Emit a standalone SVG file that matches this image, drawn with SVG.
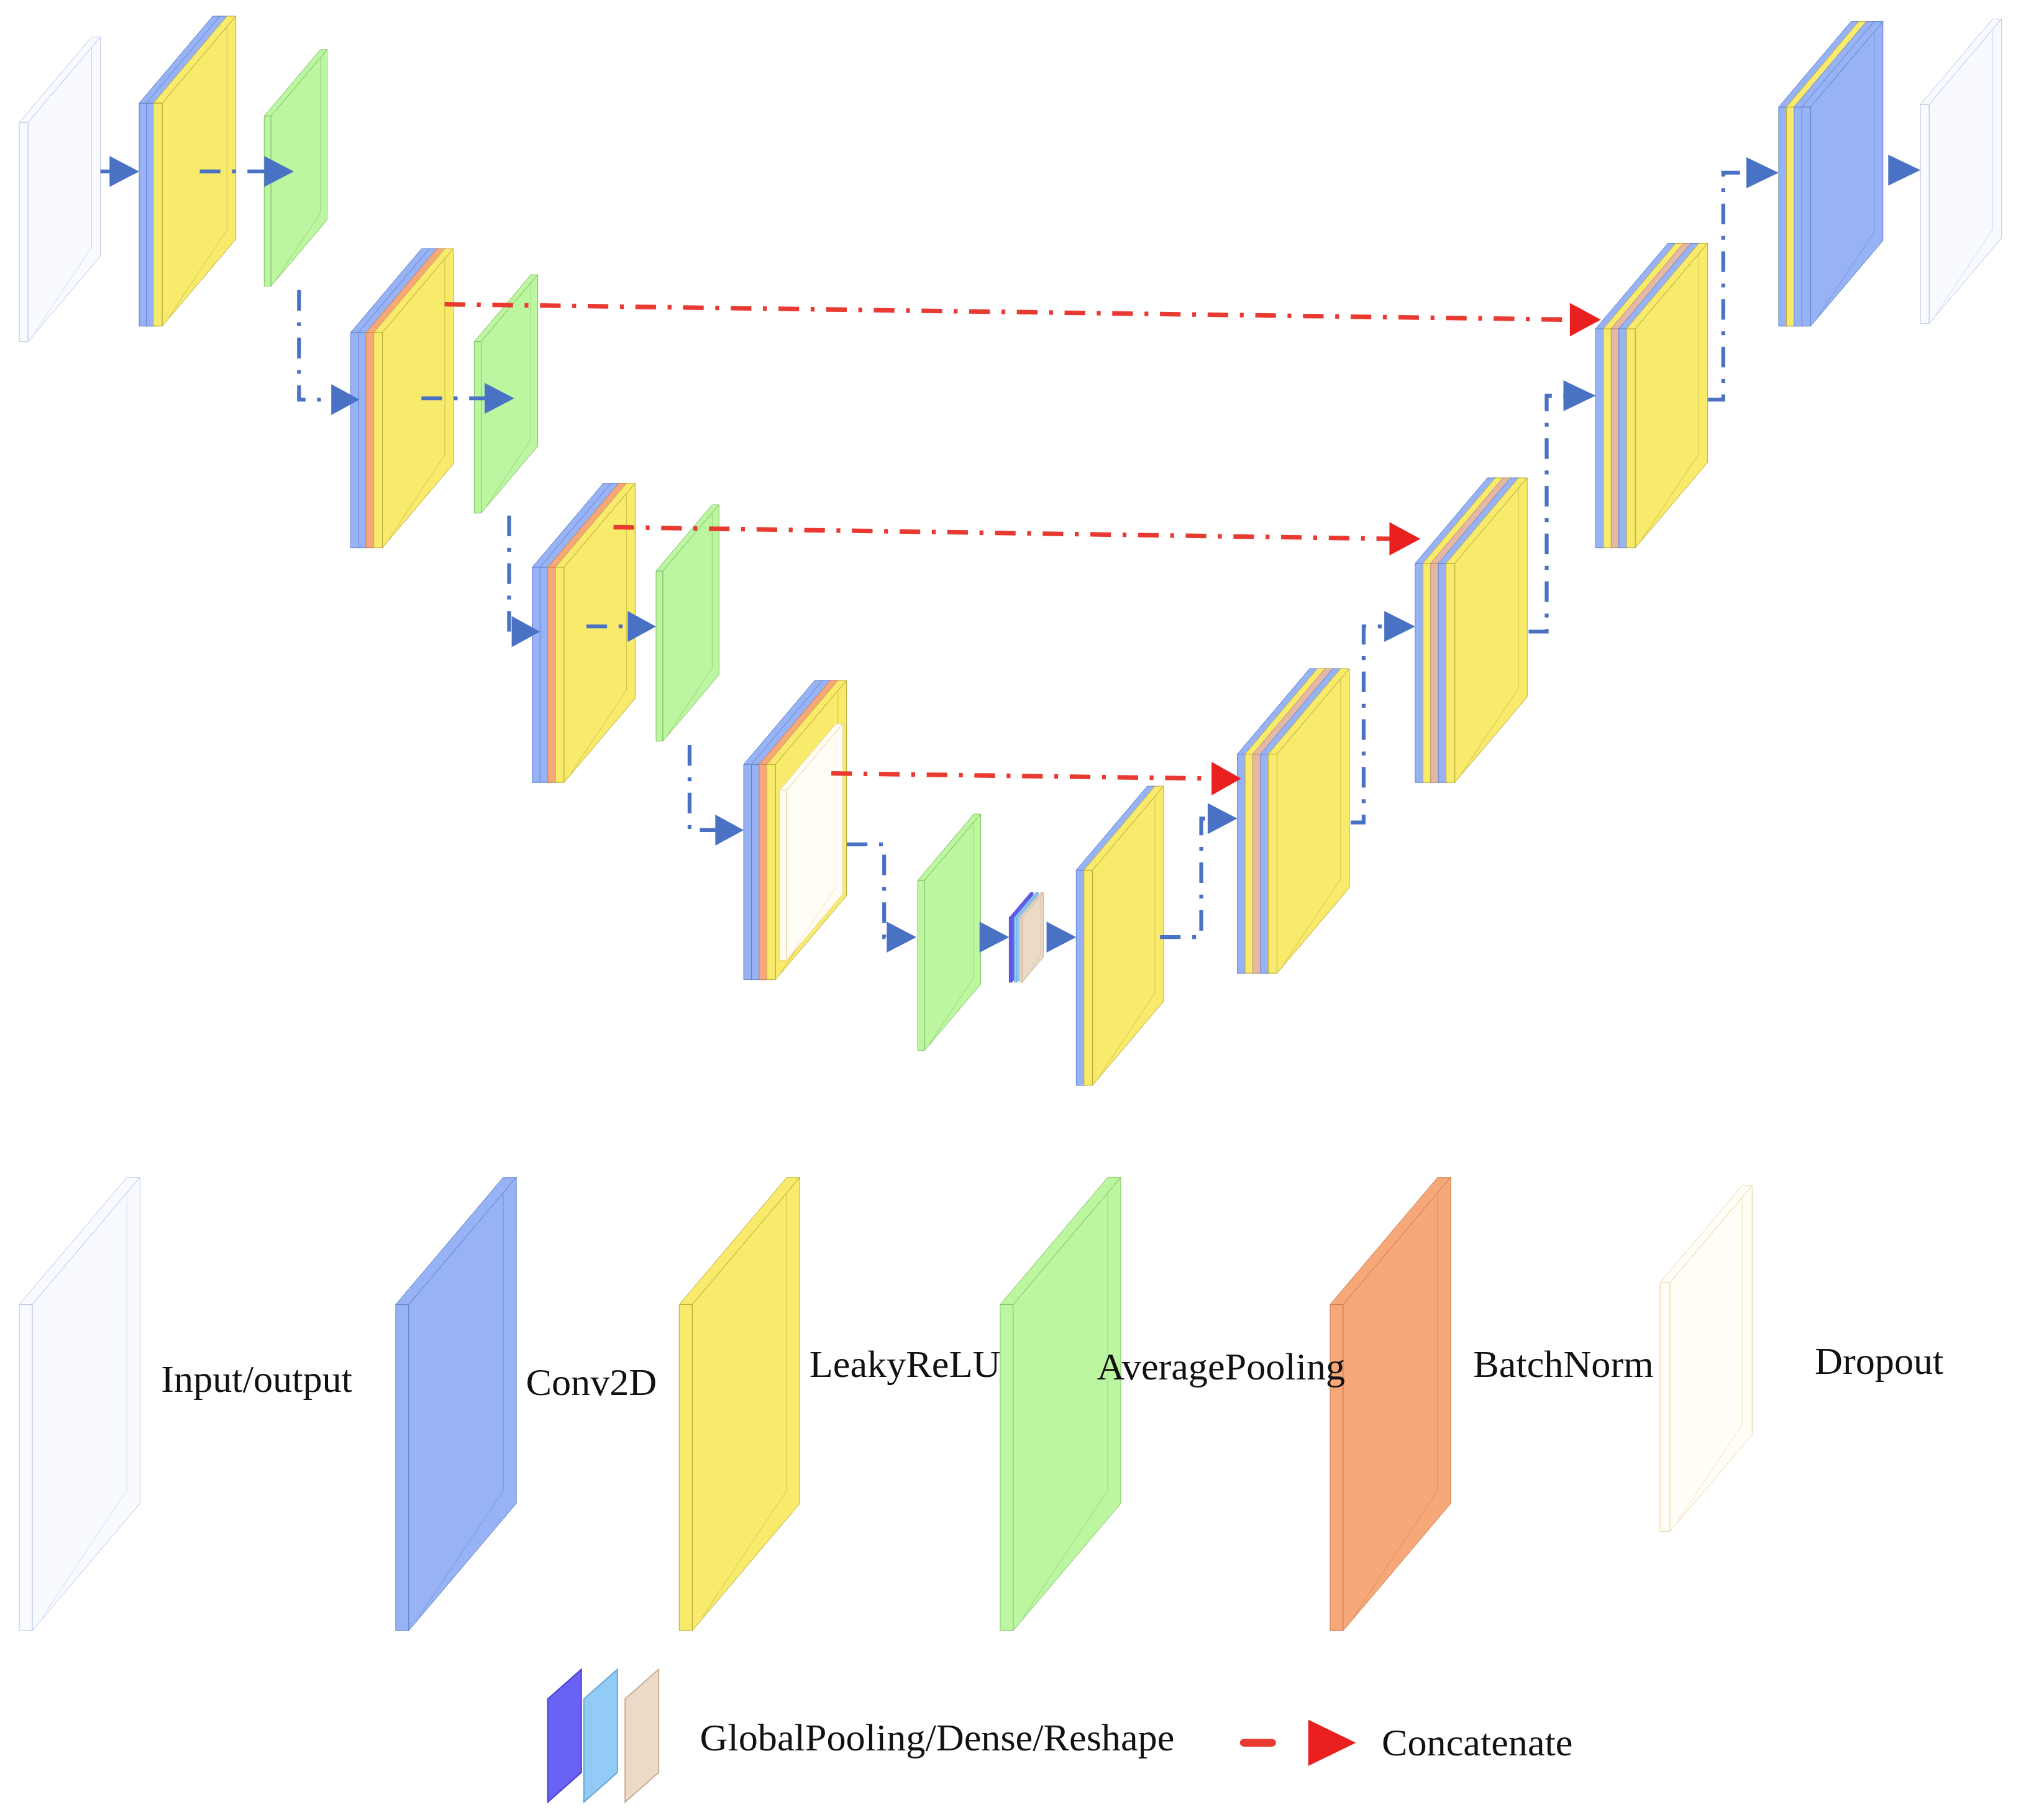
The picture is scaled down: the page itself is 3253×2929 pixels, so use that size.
<svg xmlns="http://www.w3.org/2000/svg" xmlns:xlink="http://www.w3.org/1999/xlink" width="3253" height="2929" viewBox="0 0 3253 2929">
<style>
.b{fill:#97b3f5;stroke:#5e7fc8}.y{fill:#f8ea6a;stroke:#b8a838}.g{fill:#bdf6a0;stroke:#7cbf62}.o{fill:#f7a878;stroke:#c8784a}
.w{fill:#f8faff;stroke:#b8c4e4}.d{fill:#fffdf6;stroke:#e8d2a0}.t{fill:#e4b8a4;stroke:#b88870}
.v{fill:#6a62f5;stroke:#4a42d0}.lb{fill:#92ccf6;stroke:#6aa8d8}.be{fill:#ecdac6;stroke:#c8b096}
.bl{fill:none;stroke:#4a72c4;stroke-width:3;stroke-dasharray:16 9 3 9}
.rd{fill:none;stroke:#e83a30;stroke-width:3.5;stroke-dasharray:16 9 3 9}
.ba{fill:#4a72c4}.ra{fill:#ea2020}
text{font-family:"Liberation Serif",serif;font-size:30px;fill:#111}
</style>
<defs>
<g id="plate">
<polygon points="0,0 0,-100 4,-100 4,0" vector-effect="non-scaling-stroke" stroke-width="1"/>
<polygon points="0,-100 33,-139 37,-139 4,-100" vector-effect="non-scaling-stroke" stroke-width="1"/>
<polygon points="4,-100 37,-139 37,-39 4,0" vector-effect="non-scaling-stroke" stroke-width="1"/>
<polyline points="33,-134 33,-43 7,-4" fill="none" vector-effect="non-scaling-stroke" stroke-width="1" opacity="0.6"/>
</g>
</defs>
<rect width="3253" height="2929" fill="#fff"/>
<g transform="scale(2.0746,2.0745)">
<g id="input"><use href="#plate" class="w" transform="translate(15,265) scale(1.7)"/></g>
<g id="enc1">
<use href="#plate" class="b" transform="translate(108,253) scale(1.73)"/>
<use href="#plate" class="b" transform="translate(113.5,253) scale(1.73)"/>
<use href="#plate" class="y" transform="translate(119,253) scale(1.73)"/>
</g>
<g id="pool1"><use href="#plate" class="g" transform="translate(205,222) scale(1.32)"/></g>
<g id="enc2">
<use href="#plate" class="b" transform="translate(272,425) scale(1.67)"/>
<use href="#plate" class="b" transform="translate(278,425) scale(1.67)"/>
<use href="#plate" class="o" transform="translate(284,425) scale(1.67)"/>
<use href="#plate" class="y" transform="translate(290,425) scale(1.67)"/>
</g>
<g id="pool2"><use href="#plate" class="g" transform="translate(368,398) scale(1.33)"/></g>
<g id="enc3">
<use href="#plate" class="b" transform="translate(413,607) scale(1.67)"/>
<use href="#plate" class="b" transform="translate(419,607) scale(1.67)"/>
<use href="#plate" class="o" transform="translate(425,607) scale(1.67)"/>
<use href="#plate" class="y" transform="translate(431,607) scale(1.67)"/>
</g>
<g id="pool3"><use href="#plate" class="g" transform="translate(509,575) scale(1.32)"/></g>
<g id="enc4">
<use href="#plate" class="b" transform="translate(577,760) scale(1.67)"/>
<use href="#plate" class="b" transform="translate(583,760) scale(1.67)"/>
<use href="#plate" class="o" transform="translate(589,760) scale(1.67)"/>
<use href="#plate" class="y" transform="translate(595,760) scale(1.67)"/>
<use href="#plate" class="d" transform="translate(605,745) scale(1.32)"/>
</g>
<g id="pool4"><use href="#plate" class="g" transform="translate(712,815) scale(1.32)"/></g>
<g id="gdr">
<use href="#plate" class="v" transform="translate(783,762) scale(0.5)"/>
<use href="#plate" class="lb" transform="translate(787,762) scale(0.5)"/>
<use href="#plate" class="be" transform="translate(791,762) scale(0.5)"/>
</g>
<g id="dec1">
<use href="#plate" class="b" transform="translate(835,842) scale(1.67)"/>
<use href="#plate" class="y" transform="translate(841,842) scale(1.67)"/>
</g>
<g id="dec2">
<use href="#plate" class="b" transform="translate(960,755) scale(1.7)"/>
<use href="#plate" class="y" transform="translate(966,755) scale(1.7)"/>
<use href="#plate" class="t" transform="translate(972,755) scale(1.7)"/>
<use href="#plate" class="b" transform="translate(978,755) scale(1.7)"/>
<use href="#plate" class="y" transform="translate(984,755) scale(1.7)"/>
</g>
<g id="dec3">
<use href="#plate" class="b" transform="translate(1098,607) scale(1.7)"/>
<use href="#plate" class="y" transform="translate(1104,607) scale(1.7)"/>
<use href="#plate" class="t" transform="translate(1110,607) scale(1.7)"/>
<use href="#plate" class="b" transform="translate(1116,607) scale(1.7)"/>
<use href="#plate" class="y" transform="translate(1122,607) scale(1.7)"/>
</g>
<g id="dec4">
<use href="#plate" class="b" transform="translate(1238,425) scale(1.7)"/>
<use href="#plate" class="y" transform="translate(1244,425) scale(1.7)"/>
<use href="#plate" class="t" transform="translate(1250,425) scale(1.7)"/>
<use href="#plate" class="b" transform="translate(1256,425) scale(1.7)"/>
<use href="#plate" class="y" transform="translate(1262,425) scale(1.7)"/>
</g>
<g id="final">
<use href="#plate" class="b" transform="translate(1380,253) scale(1.7)"/>
<use href="#plate" class="y" transform="translate(1386,253) scale(1.7)"/>
<use href="#plate" class="b" transform="translate(1392,253) scale(1.7)"/>
<use href="#plate" class="b" transform="translate(1398,253) scale(1.7)"/>
</g>
<g id="output"><use href="#plate" class="w" transform="translate(1490,251) scale(1.7)"/></g>
<g id="connectors">
<polyline class="bl" points="78,133 90,133"/>
<polyline class="bl" points="155,133 207,133"/>
<polyline class="bl" points="232,225 232,310 258,310"/>
<polyline class="bl" points="327,309 378,309"/>
<polyline class="bl" points="395,400 395,490 398,490"/>
<polyline class="bl" points="455,486 488,486"/>
<polyline class="bl" points="535,578 535,644 556,644"/>
<polyline class="bl" points="657,655 686,655 686,727 690,727"/>
<polyline class="bl" points="900,727 932,727 932,635 938,635"/>
<polyline class="bl" points="1048,638 1058,638 1058,486 1075,486"/>
<polyline class="bl" points="1186,490 1200,490 1200,307 1214,307"/>
<polyline class="bl" points="1325,310 1337,310 1337,134 1356,134"/>
<polyline class="rd" points="345,236 1220,248"/>
<polyline class="rd" points="476,409 1080,418"/>
<polyline class="rd" points="645,600 942,604"/>
<polygon class="ba" points="85,121 108,133 85,145"/>
<polygon class="ba" points="205,121 228,133 205,145"/>
<polygon class="ba" points="257,298 279,310 257,322"/>
<polygon class="ba" points="376,297 399,309 376,321"/>
<polygon class="ba" points="397,478 419,490 397,502"/>
<polygon class="ba" points="487,474 509,486 487,498"/>
<polygon class="ba" points="555,632 577,644 555,656"/>
<polygon class="ba" points="688,715 711,727 688,739"/>
<polygon class="ba" points="760,715 783,727 760,739"/>
<polygon class="ba" points="812,715 835,727 812,739"/>
<polygon class="ba" points="937,623 960,635 937,647"/>
<polygon class="ba" points="1074,474 1098,486 1074,498"/>
<polygon class="ba" points="1213,295 1238,307 1213,319"/>
<polygon class="ba" points="1355,122 1380,134 1355,146"/>
<polygon class="ba" points="1465,120 1490,132 1465,144"/>
<polygon class="ra" points="1218,235 1242,248 1218,261"/>
<polygon class="ra" points="1078,405 1102,418 1078,431"/>
<polygon class="ra" points="940,591 963,604 940,617"/>
</g>
<g id="legend">
<use href="#plate" class="w" transform="translate(15,1265) scale(2.53)"/>
<use href="#plate" class="b" transform="translate(307,1265) scale(2.53)"/>
<use href="#plate" class="y" transform="translate(527,1265) scale(2.53)"/>
<use href="#plate" class="g" transform="translate(776,1265) scale(2.53)"/>
<use href="#plate" class="o" transform="translate(1032,1265) scale(2.53)"/>
<use href="#plate" class="d" transform="translate(1288,1188) scale(1.93)"/>
<polygon class="v" points="425,1318 451,1295 451,1375 425,1398"/>
<polygon class="lb" points="453,1318 479,1295 479,1375 453,1398"/>
<polygon class="be" points="485,1318 511,1295 511,1375 485,1398"/>
<rect x="962" y="1349" width="28" height="6" rx="3" fill="#e83a30"/>
<polygon class="ra" points="1015,1334 1052,1352 1015,1370"/>
<text x="125" y="1080">Input/output</text>
<text x="408" y="1082">Conv2D</text>
<text x="628" y="1068">LeakyReLU</text>
<text x="851" y="1070">AveragePooling</text>
<text x="1143" y="1068">BatchNorm</text>
<text x="1408" y="1066">Dropout</text>
<text x="543" y="1358">GlobalPooling/Dense/Reshape</text>
<text x="1072" y="1362">Concatenate</text>
</g>
</g>
</svg>
